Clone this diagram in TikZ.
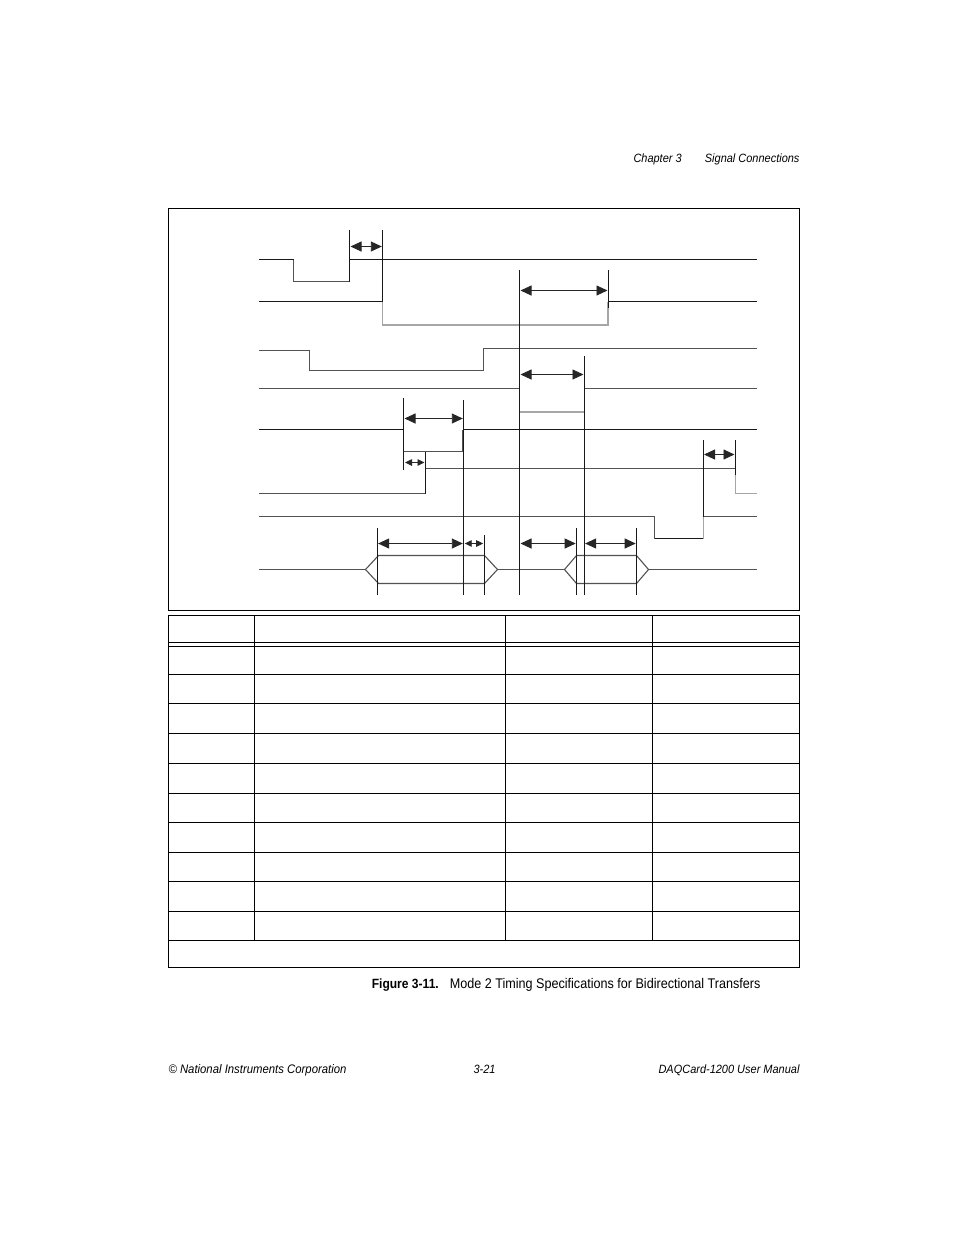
\documentclass[tikz,border=0pt]{standalone}
\usepackage{fontspec}
\setmainfont{Liberation Sans}
\newfontfamily\capfont[FakeStretch=0.9]{Liberation Sans}
\newfontfamily\hdrfont[FakeStretch=0.915]{Liberation Sans}
\usetikzlibrary{arrows.meta}

\begin{document}
\begin{tikzpicture}[x=1pt, y=-1pt, line width=1pt]
\tikzstyle{sig}=[line width=1.1pt, black!90]
\tikzstyle{sigg}=[line width=1.1pt, black!68]
\tikzstyle{edg}=[line width=1.4pt, black!35]
\tikzstyle{tck}=[line width=1.1pt, black!90]
\tikzstyle{dim}=[line width=.9pt, black!85, {Triangle[length=11pt,width=10pt]}-{Triangle[length=11pt,width=10pt]}, shorten >=.5pt, shorten <=.5pt]
\tikzstyle{dims}=[line width=.9pt, black!85, {Triangle[length=7pt,width=6.5pt]}-{Triangle[length=7pt,width=6.5pt]}, shorten >=1pt, shorten <=1pt]
\tikzstyle{frm}=[line width=1.1pt, black]
\tikzstyle{txt}=[inner sep=0pt, font=\fontsize{12}{14}\hdrfont\itshape]
\useasboundingbox (0,0) rectangle (954,1235);

\node[txt, anchor=base west] (chap) at (633,162) {Chapter 3};
\node[txt, anchor=base east] (sect) at (800,162) {Signal Connections};
\node[txt, anchor=base west, font=\fontsize{12.4}{14}\hdrfont\itshape] (corp) at (168,1073.5) {\textcopyright{} National Instruments Corporation};
\node[txt, anchor=base] (pnum) at (484.5,1073.5) {3-21};
\node[txt, anchor=base east] (manu) at (800,1073.5) {DAQCard-1200 User Manual};
\node[inner sep=0pt, anchor=base east, font=\fontsize{14}{16}\capfont] (capt) at (761,988.5) {{\fontsize{13.4}{16}\capfont\textbf{Figure 3-11.}}\hspace{11pt}Mode 2 Timing Specifications for Bidirectional Transfers};

\draw[frm] (168.5,208.5) rectangle (799.5,610.5);

\draw[sig] (259,259.5) -- (293.5,259.5);
\draw[sigg] (293.5,259.5) |- (349.5,281.5);
\draw[sig] (349.5,281.5) -- (349.5,259.5) -- (757,259.5);
\draw[sig] (259,301.5) -- (382.5,301.5);
\draw[edg] (382.5,301.5) |- (608,325) -- (608,301.5);
\draw[sig] (608,301.5) -- (757,301.5);
\draw[sigg] (259,350.5) -| (309.5,370.5) -| (483.5,348.5) -- (757,348.5);
\draw[sigg] (259,388.5) -- (519.5,388.5);
\draw[edg] (519.5,388.5) |- (584.5,412) -- (584.5,388.5);
\draw[sigg] (584.5,388.5) -- (757,388.5);
\draw[sig] (259,429.5) -- (403.5,429.5);
\draw[sigg] (403.5,429.5) |- (462.7,451.5) -- (462.7,429.5);
\draw[sig] (463,429.5) -- (757,429.5);
\draw[sigg] (259,493.5) -| (425.5,468.5) -- (735.5,468.5);
\draw[edg] (735.5,468.5) |- (757,493.5);
\draw[sigg] (259,516.5) -| (654.5,538.5);
\draw[sig] (654.5,538.5) -- (703.5,538.5);
\draw[edg] (703.5,538.5) -- (703.5,516.5);
\draw[sigg] (703.5,516.5) -- (757,516.5);

\draw[sigg] (259,569.5) -- (365.5,569.5);
\draw[sigg] (378.5,555.5) -- (365.5,569.5) -- (378.5,583.5) -- (484.5,583.5) -- (497.5,569.5) -- (484.5,555.5) -- cycle;
\draw[sigg] (497.5,569.5) -- (564.5,569.5);
\draw[sigg] (576.5,555.5) -- (564.5,569.5) -- (576.5,583.5) -- (636.5,583.5) -- (648.5,569.5) -- (636.5,555.5) -- cycle;
\draw[sigg] (648.5,569.5) -- (757,569.5);

\foreach \tx/\ta/\tb in {349.5/230/259.5, 382.5/230/301.5, 519.5/270/595, 608.5/270/308,
    584.5/356/595, 403.5/398/469.5, 463.5/400/595, 425.5/451.5/493.5,
    703.5/440/517, 735.5/440/475, 377.5/528/595, 484.5/535/595,
    576.5/528/595, 636.5/528/595}
  \draw[tck] (\tx,\ta) -- (\tx,\tb);

\draw[dim] (350,246.5) -- (382.3,246.5);
\draw[dim] (520,290.5) -- (608,290.5);
\draw[dim] (520,374.5) -- (584,374.5);
\draw[dim] (404,418.5) -- (463.3,418.5);
\draw[dims] (404,462.5) -- (425.5,462.5);
\draw[dim] (703.5,454.5) -- (735,454.5);
\draw[dim] (377.6,543.5) -- (463.3,543.5);
\draw[dims] (463.7,543.5) -- (484.2,543.5);
\draw[dim] (520,543.5) -- (576.2,543.5);
\draw[dim] (584.6,543.5) -- (636.2,543.5);

\draw[frm] (168.5,615.5) rectangle (799.5,967.5);
\draw[frm] (168.5,642.5) -- (799.5,642.5);
\foreach \ry in {646.5,674.5,703.5,733.5,763.5,793.5,822.5,852.5,881.5,911.5,940.5}
  \draw[frm] (168.5,\ry) -- (799.5,\ry);
\foreach \cx in {254.5,505.5,652.5}
  \draw[frm] (\cx,615.5) -- (\cx,940.5);
\end{tikzpicture}
\end{document}
